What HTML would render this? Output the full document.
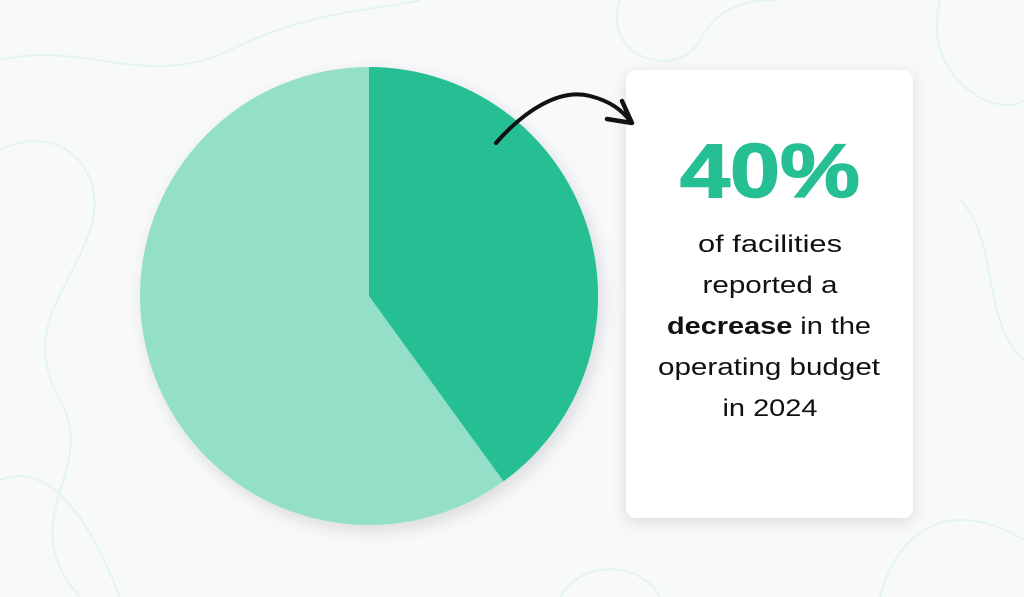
<!DOCTYPE html>
<html><head><style>
html,body{margin:0;padding:0;background:#f8f9fb;}
svg{display:block;}
</style></head><body>
<svg width="1024" height="597" viewBox="0 0 1024 597" xmlns="http://www.w3.org/2000/svg">
<defs>
<filter id="sh" x="-20%" y="-20%" width="140%" height="140%"><feDropShadow dx="0" dy="4" stdDeviation="8" flood-color="#000" flood-opacity="0.12"/></filter>
<filter id="sh2" x="-20%" y="-20%" width="140%" height="140%"><feDropShadow dx="4" dy="6" stdDeviation="8" flood-color="#000" flood-opacity="0.12"/></filter>
</defs>
<rect width="1024" height="597" fill="#f8f9fb"/>
<g fill="none" stroke="#e2f5ee" stroke-width="2">
<path d="M0 60 C80 40 150 90 230 50 S380 10 420 0"/>
<path d="M0 150 C60 120 110 170 90 230 S20 330 60 400 S10 520 80 597"/>
<path d="M620 0 C600 60 680 80 700 40 S760 0 780 0"/>
<path d="M940 0 C920 80 1000 120 1024 100"/>
<path d="M880 597 C900 520 960 500 1024 540"/>
<path d="M560 597 C580 560 640 560 660 597"/>
<path d="M0 480 C50 460 90 520 120 597"/>
<path d="M960 200 C1000 240 980 320 1024 360"/>
</g>
<g filter="url(#sh2)">
<circle cx="369" cy="296" r="229" fill="#93dfc8"/>
<path d="M369 296 L369 67 A229 229 0 0 1 503.6 481.3 Z" fill="#26bf94"/>
</g>
<rect x="626" y="70" width="287" height="448" rx="10" fill="#fff" filter="url(#sh)"/>
<path d="M496 143 C525 110 560 88 590 96 C610 101 622 110 631 122" fill="none" stroke="#111" stroke-width="4" stroke-linecap="round"/>
<path d="M622 101 L632 123 L607 119" fill="none" stroke="#111" stroke-width="4.5" stroke-linecap="round" stroke-linejoin="round"/>
<g font-family="Liberation Sans, sans-serif" text-anchor="middle">
<text x="770" y="197" font-size="76" font-weight="bold" fill="#26bf94" stroke="#26bf94" stroke-width="1.5" textLength="180" lengthAdjust="spacingAndGlyphs">40%</text>
<g font-size="24" fill="#111">
<text x="770" y="252" textLength="144" lengthAdjust="spacingAndGlyphs">of facilities</text>
<text x="770" y="293" textLength="135" lengthAdjust="spacingAndGlyphs">reported a</text>
<text x="769" y="334" textLength="204" lengthAdjust="spacingAndGlyphs"><tspan font-weight="bold">decrease</tspan> in the</text>
<text x="769" y="375" textLength="222" lengthAdjust="spacingAndGlyphs">operating budget</text>
<text x="770" y="416" textLength="95" lengthAdjust="spacingAndGlyphs">in 2024</text>
</g>
</g>
</svg>
</body></html>
